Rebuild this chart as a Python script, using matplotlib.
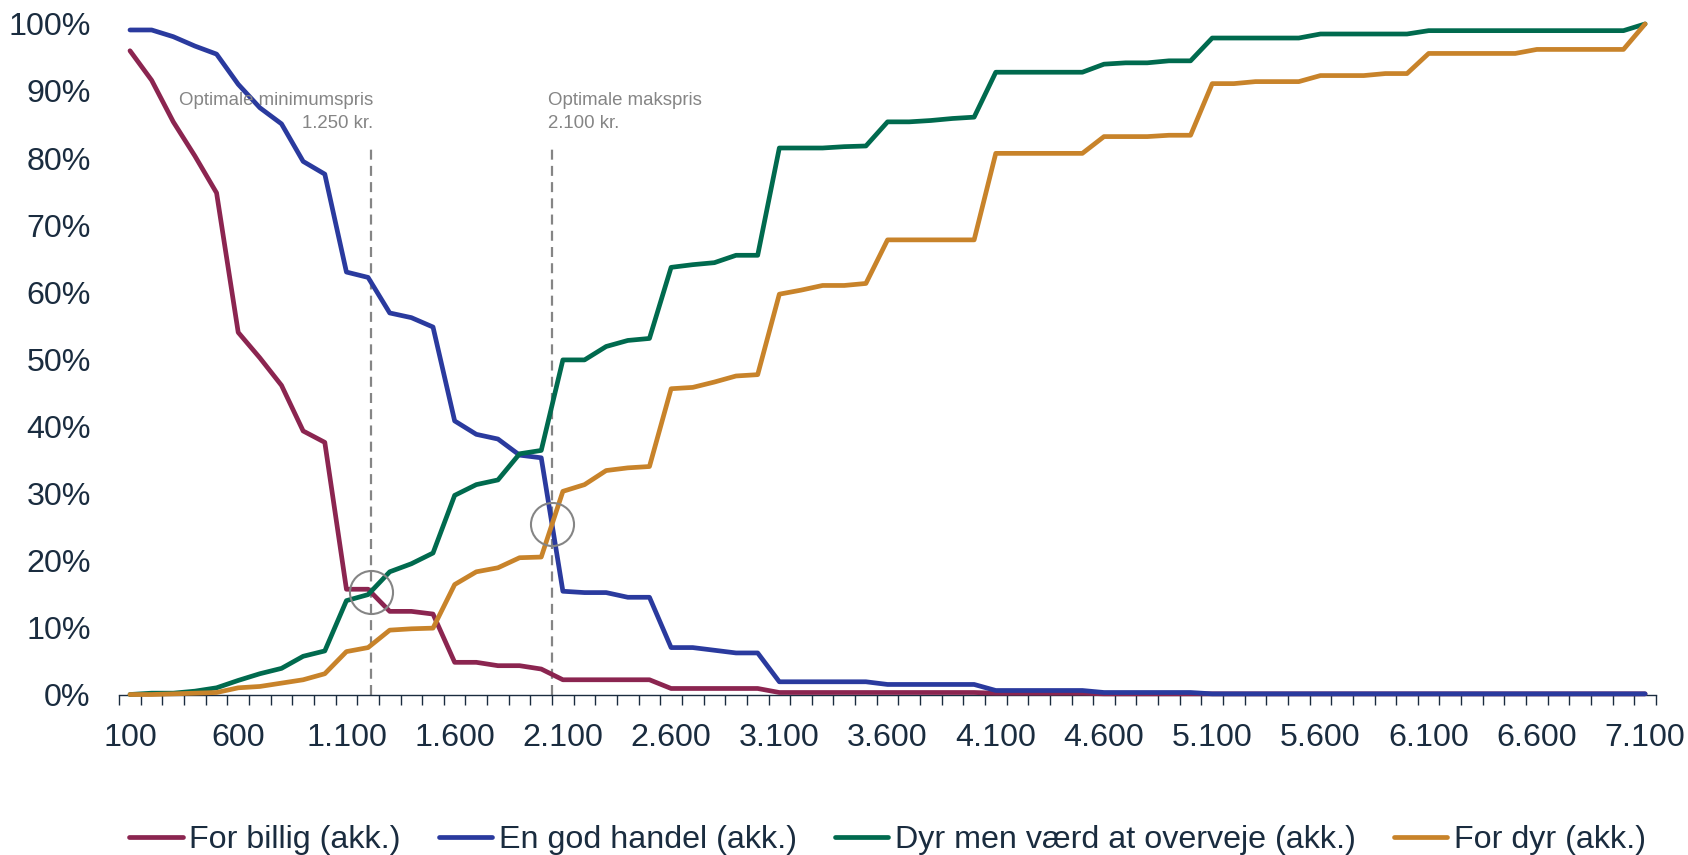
import matplotlib
matplotlib.use("Agg")
import matplotlib.pyplot as plt
import numpy as np
from matplotlib.ticker import FixedLocator, FuncFormatter

plt.rcParams["font.family"] = ["Liberation Sans", "DejaVu Sans"]

# price points (kr.), 100 to 7.100 in steps of 100
prices = list(range(100, 7200, 100))

# cumulative shares in percent
for_billig = [
    96.0, 91.6, 85.4, 80.3, 74.8, 54.0, 50.2, 46.1, 39.3, 37.6,
    15.7, 15.7, 12.4, 12.4, 12.0, 4.8, 4.8, 4.3, 4.3, 3.8,
    2.2, 2.2, 2.2, 2.2, 2.2, 0.9, 0.9, 0.9, 0.9, 0.9,
    0.3, 0.3, 0.3, 0.3, 0.3, 0.3, 0.3, 0.3, 0.3, 0.3,
    0.2, 0.2, 0.2, 0.2, 0.2, 0.1, 0.1, 0.1, 0.1, 0.1,
    0.1, 0.1, 0.1, 0.1, 0.1, 0.1, 0.1, 0.1, 0.1, 0.1,
    0.1, 0.1, 0.1, 0.1, 0.1, 0.1, 0.1, 0.1, 0.1, 0.1, 0.1,
]
god_handel = [
    99.1, 99.1, 98.1, 96.7, 95.5, 91.0, 87.5, 85.1, 79.5, 77.6,
    63.0, 62.2, 56.9, 56.2, 54.8, 40.8, 38.8, 38.1, 35.7, 35.3,
    15.4, 15.2, 15.2, 14.5, 14.5, 7.0, 7.0, 6.6, 6.2, 6.2,
    1.9, 1.9, 1.9, 1.9, 1.9, 1.5, 1.5, 1.5, 1.5, 1.5,
    0.6, 0.6, 0.6, 0.6, 0.6, 0.3, 0.3, 0.3, 0.3, 0.3,
    0.1, 0.1, 0.1, 0.1, 0.1, 0.1, 0.1, 0.1, 0.1, 0.1,
    0.1, 0.1, 0.1, 0.1, 0.1, 0.1, 0.1, 0.1, 0.1, 0.1, 0.1,
]
dyr_men_vaerd = [
    0.0, 0.2, 0.2, 0.5, 1.0, 2.1, 3.1, 3.9, 5.7, 6.5,
    14.0, 14.9, 18.3, 19.5, 21.1, 29.7, 31.3, 32.0, 35.9, 36.4,
    49.9, 49.9, 51.9, 52.8, 53.1, 63.7, 64.1, 64.4, 65.5, 65.5,
    81.5, 81.5, 81.5, 81.7, 81.8, 85.4, 85.4, 85.6, 85.9, 86.1,
    92.8, 92.8, 92.8, 92.8, 92.8, 94.0, 94.2, 94.2, 94.5, 94.5,
    97.9, 97.9, 97.9, 97.9, 97.9, 98.5, 98.5, 98.5, 98.5, 98.5,
    99.0, 99.0, 99.0, 99.0, 99.0, 99.0, 99.0, 99.0, 99.0, 99.0, 100.0,
]
for_dyr = [
    0.0, 0.0, 0.1, 0.2, 0.3, 1.0, 1.2, 1.7, 2.2, 3.1,
    6.4, 7.0, 9.6, 9.8, 9.9, 16.4, 18.3, 18.9, 20.4, 20.5,
    30.3, 31.3, 33.4, 33.8, 34.0, 45.6, 45.8, 46.6, 47.5, 47.7,
    59.7, 60.3, 61.0, 61.0, 61.3, 67.8, 67.8, 67.8, 67.8, 67.8,
    80.7, 80.7, 80.7, 80.7, 80.7, 83.2, 83.2, 83.2, 83.4, 83.4,
    91.1, 91.1, 91.4, 91.4, 91.4, 92.3, 92.3, 92.3, 92.6, 92.6,
    95.6, 95.6, 95.6, 95.6, 95.6, 96.2, 96.2, 96.2, 96.2, 96.2, 100.0,
]

series = [
    ("For billig (akk.)", for_billig, "#8b2550"),
    ("En god handel (akk.)", god_handel, "#2a3a9e"),
    ("Dyr men værd at overveje (akk.)", dyr_men_vaerd, "#006a4e"),
    ("For dyr (akk.)", for_dyr, "#c8832a"),
]

min_label = "Optimale minimumspris\n1.250 kr."
max_label = "Optimale makspris\n2.100 kr."

TEXT = "#1a2c3f"
GREY = "#858585"


def crossing(a, b):
    """First point where series a and b cross (linear interpolation)."""
    x = np.asarray(prices, float)
    d = np.asarray(a, float) - np.asarray(b, float)
    k = np.where(np.sign(d[:-1]) != np.sign(d[1:]))[0][0]
    t = d[k] / (d[k] - d[k + 1])
    xc = x[k] + t * (x[k + 1] - x[k])
    yc = a[k] + t * (a[k + 1] - a[k])
    return xc, yc / 100


fig = plt.figure(figsize=(16.88, 8.55), dpi=100)
ax = fig.add_axes([0.0706, 0.1877, 0.9104, 0.7843])

x = np.array(prices)
for label, vals, color in series:
    ax.plot(x, np.array(vals) / 100, color=color, lw=3.4, label=label,
            solid_joinstyle="round", solid_capstyle="round", clip_on=False, zorder=3)

# optimal price points: crossings of the cumulative curves
x_min, y_min = crossing(for_billig, dyr_men_vaerd)
x_max, y_max = crossing(god_handel, for_dyr)

for xc, yc in [(x_min, y_min), (x_max, y_max)]:
    ax.plot([xc, xc], [0, 0.82], color=GREY, lw=1.6, ls=(0, (4.5, 2.8)), zorder=2)
    ax.plot(xc, yc, "o", ms=31, mfc="none", mec=GREY, mew=1.5, zorder=4, clip_on=False)

ax.annotate(min_label, (x_min, 0.898), xytext=(2, 0), textcoords="offset points",
            ha="right", va="top", fontsize=13.4, color=GREY, linespacing=1.4)
ax.annotate(max_label, (x_max, 0.898), xytext=(-3, 0), textcoords="offset points",
            ha="left", va="top", fontsize=13.4, color=GREY, linespacing=1.4)

ax.set_xlim(50, 7150)
ax.set_ylim(0, 1)

ax.xaxis.set_major_locator(FixedLocator(prices[::5]))
ax.xaxis.set_minor_locator(FixedLocator(np.arange(50, 7200, 100)))
ax.xaxis.set_major_formatter(FuncFormatter(lambda v, p: f"{int(v):,}".replace(",", ".")))
ax.yaxis.set_major_locator(FixedLocator(np.arange(0, 1.01, 0.1)))
ax.yaxis.set_major_formatter(FuncFormatter(lambda v, p: f"{v * 100:.0f}%"))

ax.tick_params(axis="x", which="major", length=0, pad=20.5, labelsize=23.2, labelcolor=TEXT)
ax.tick_params(axis="x", which="minor", length=7.2, width=1.0, color=TEXT, direction="out")
ax.tick_params(axis="y", which="major", length=0, pad=20.5, labelsize=23.2, labelcolor=TEXT)

for side in ["top", "right", "left"]:
    ax.spines[side].set_visible(False)
ax.spines["bottom"].set_color(TEXT)
ax.spines["bottom"].set_linewidth(1.0)

fig.legend(loc="center", bbox_to_anchor=(0.5258, 0.0175), ncol=4, frameon=False,
           fontsize=23.2, handlelength=1.66, handletextpad=0.2, columnspacing=1.18,
           borderpad=0, labelcolor=TEXT)

fig.savefig("out.png", dpi=100)
